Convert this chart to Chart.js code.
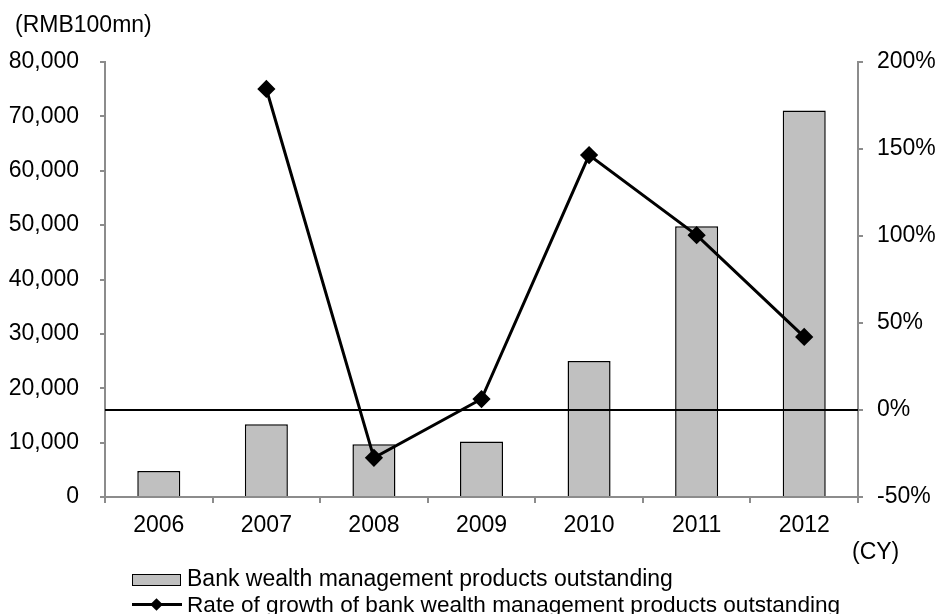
<!DOCTYPE html>
<html>
<head>
<meta charset="utf-8">
<script src="https://cdn.jsdelivr.net/npm/chart.js@4/dist/chart.umd.min.js"></script>
<style>
  body { margin: 0; background: #fff; }
  #wrap { position: relative; width: 940px; height: 614px; font-family: "Liberation Sans", Arial, sans-serif; color: #000; }
  .txt { position: absolute; font-size: 23px; line-height: 23px; white-space: nowrap; }
  .box { position: absolute; width: 47px; height: 10px; background: #c0c0c0; border: 1.5px solid #000; }
  .lline { position: absolute; width: 50px; height: 3px; background: #000; }
  .diam { position: absolute; width: 9px; height: 9px; background: #000; transform: rotate(45deg); }
</style>
</head>
<body>
<div id="wrap">
  <canvas id="chart" width="940" height="614"></canvas>
  <div class="txt" style="left:15px; top:13px;">(RMB100mn)</div>
  <div class="txt" style="left:852px; top:540px;">(CY)</div>
  <div class="box" style="left:132px; top:574px;"></div>
  <div class="txt" style="left:187px; top:567px;">Bank wealth management products outstanding</div>
  <div class="lline" style="left:132px; top:603px;"></div>
  <div class="diam" style="left:152px; top:600px;"></div>
  <div class="txt" style="left:187px; top:593px; font-size:22.6px;">Rate of growth of bank wealth management products outstanding</div>
</div>
<script>
// data
const years = ['2006', '2007', '2008', '2009', '2010', '2011', '2012'];
const outstanding = [4800, 13400, 9700, 10200, 25000, 49800, 71100];
const growthRate = [null, 184.5, -27.5, 6.3, 146.5, 100.5, 42];

const axisGray = '#8c8c8c';
const tickFont = { family: '"Liberation Sans", Arial, sans-serif', size: 23 };

// zero line of the right axis, drawn over the bars
const zeroLine = {
  id: 'zeroLine',
  afterDatasetsDraw(chart) {
    const { ctx, chartArea } = chart;
    const y = chart.scales.y1.getPixelForValue(0);
    ctx.save();
    ctx.strokeStyle = '#000';
    ctx.lineWidth = 2;
    ctx.beginPath();
    ctx.moveTo(chartArea.left, y);
    ctx.lineTo(chartArea.right, y);
    ctx.stroke();
    ctx.restore();
  }
};

const ctx = document.getElementById('chart').getContext('2d');
new Chart(ctx, {
  type: 'bar',
  data: {
    labels: years,
    datasets: [
      {
        type: 'line',
        label: 'Rate of growth of bank wealth management products outstanding',
        data: growthRate,
        yAxisID: 'y1',
        borderColor: '#000',
        backgroundColor: '#000',
        borderWidth: 3,
        pointStyle: 'rectRot',
        pointRadius: 7,
        pointHoverRadius: 7,
        tension: 0,
        order: 0
      },
      {
        type: 'bar',
        label: 'Bank wealth management products outstanding',
        data: outstanding,
        yAxisID: 'y',
        backgroundColor: '#c0c0c0',
        borderColor: '#000',
        borderWidth: 1.5,
        barPercentage: 1,
        categoryPercentage: 0.4,
        order: 1
      }
    ]
  },
  options: {
    responsive: false,
    animation: false,
    layout: { padding: { top: 62, left: 0, right: 0, bottom: 0 } },
    plugins: { legend: { display: false }, tooltip: { enabled: false } },
    scales: {
      x: {
        offset: true,
        grid: { offset: true, drawOnChartArea: false, tickLength: 6, tickColor: axisGray, lineWidth: 2 },
        border: { color: axisGray, width: 2 },
        ticks: { color: '#000', font: tickFont, padding: 9, maxRotation: 0 },
        afterFit(scale) { scale.height = 117; }
      },
      y: {
        position: 'left',
        min: 0,
        max: 80000,
        grid: { drawOnChartArea: false, tickLength: 5, tickColor: axisGray, lineWidth: 2 },
        border: { color: axisGray, width: 2 },
        ticks: {
          stepSize: 10000,
          color: '#000',
          font: tickFont,
          padding: 21,
          callback: v => v.toLocaleString('en-US')
        },
        afterFit(scale) { scale.width = 105; }
      },
      y1: {
        position: 'right',
        min: -50,
        max: 200,
        grid: { drawOnChartArea: false, tickLength: 5, tickColor: axisGray, lineWidth: 2 },
        border: { color: axisGray, width: 2 },
        ticks: {
          stepSize: 50,
          color: '#000',
          font: tickFont,
          padding: 14,
          callback: v => v + '%'
        },
        afterFit(scale) { scale.width = 82; }
      }
    }
  },
  plugins: [zeroLine]
});
</script>
</body>
</html>
